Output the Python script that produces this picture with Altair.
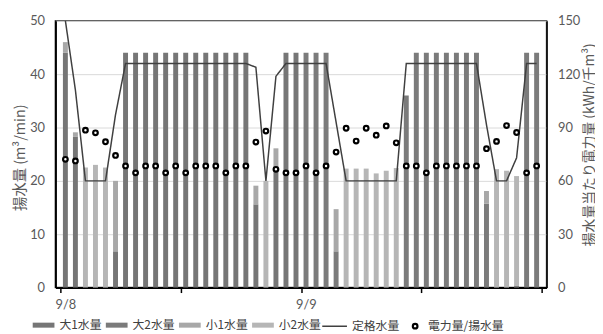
import altair as alt
import pandas as pd

# hourly data, 9/8 00:00 - 9/9 23:00
hours = list(range(48))

dai1 = [44, 28.3, 0, 0, 0, 6.8, 44, 44, 44, 44, 44, 44,
        44, 44, 44, 44, 44, 44, 44, 15.6, 0, 22.2, 44, 44,
        0, 0, 0, 0, 0, 0, 0, 0, 0, 0, 0, 0,
        0, 0, 0, 0, 0, 0, 0, 0, 0, 0, 0, 0]
dai2 = [0, 0, 0, 0, 0, 0, 0, 0, 0, 0, 0, 0,
        0, 0, 0, 0, 0, 0, 0, 0, 0, 0, 0, 0,
        44, 44, 44, 6.8, 0, 0, 0, 0, 0, 0, 36.0, 44,
        44, 44, 44, 44, 44, 44, 15.7, 0, 0, 0.4, 44, 44]
sho1 = [2.0, 0.8, 0, 0, 0, 13.2, 0, 0, 0, 0, 0, 0,
        0, 0, 0, 0, 0, 0, 0, 3.5, 0, 3.9, 0, 0,
        0, 0, 0, 7.9, 0, 0, 0, 0, 0, 0, 0, 0,
        0, 0, 0, 0, 0, 0, 2.4, 0, 0, 0, 0, 0]
sho2 = [0, 0, 22.5, 23.0, 22.5, 0, 0, 0, 0, 0, 0, 0,
        0, 0, 0, 0, 0, 0, 0, 0, 20.0, 0, 0, 0,
        0, 0, 0, 0, 22.3, 22.3, 22.3, 21.4, 21.9, 22.4, 0, 0,
        0, 0, 0, 0, 0, 0, 0, 22.2, 21.9, 20.5, 0, 0]
teikaku = [50, 37, 20, 20, 20, 32.4, 42, 42, 42, 42, 42, 42,
           42, 42, 42, 42, 42, 42, 42, 41.3, 20, 39.6, 42, 42,
           42, 42, 42, 31, 20, 20, 20, 20, 20, 20, 42, 42,
           42, 42, 42, 42, 42, 42, 30.5, 20, 20, 24.3, 42, 42]
denryoku = [72.1, 71.2, 88.5, 87.0, 82.0, 74.3, 68.4, 64.5, 68.4, 68.4, 64.5, 68.4,
            64.5, 68.4, 68.4, 68.4, 64.5, 68.4, 68.4, 81.8, 88.0, 66.5, 64.5, 64.5,
            68.4, 64.5, 68.4, 76.2, 89.6, 82.4, 89.6, 85.7, 90.9, 81.4, 68.4, 68.4,
            64.5, 68.4, 68.4, 68.4, 68.4, 68.4, 78.1, 82.2, 91.1, 87.2, 64.5, 68.4]

bar_names = ["大1水量", "大2水量", "小1水量", "小2水量"]
line_name = "定格水量"
point_name = "電力量/揚水量"
x_tick_values = [0, 12, 24, 36, 48]
left_ticks = [0, 10, 20, 30, 40, 50]
right_ticks = [0, 30, 60, 90, 120, 150]

bar_colors = ["#767676", "#7b7b7b", "#a8a8a8", "#b6b6b6"]
line_color = "#404040"

rows = []
for i in hours:
    for k, (name, arr) in enumerate(zip(bar_names, [dai1, dai2, sho1, sho2])):
        rows.append({"hour": i + 0.5, "series": name, "value": arr[i], "ord": k})
bars_df = pd.DataFrame(rows)
pts_df = pd.DataFrame({"hour": [i + 0.5 for i in hours],
                       "rated": teikaku, "ratio": denryoku,
                       "line_series": line_name, "pt_series": point_name})

LBL = dict(labelFont="Noto Sans CJK JP", labelFontSize=12, labelColor="#404040",
           title=None, orient="none", direction="horizontal", padding=0)

x_scale = alt.Scale(domain=[0, 48], nice=False, zero=False)
x_axis = alt.Axis(values=x_tick_values, title=None, grid=False,
                  labelExpr="datum.value == 0 ? '9/8' : (datum.value == 24 ? '9/9' : '')",
                  labelOffset=5, ticks=True, tickSize=5, tickWidth=1.5, tickColor="#000000",
                  domainColor="#000000", domainWidth=2, labelPadding=6,
                  labelFont="Lato", labelFontSize=13, labelColor="#595959")

left_axis = alt.Axis(values=left_ticks, title="揚水量 (m³/min)", grid=True,
                     gridColor="#d9d9d9", gridWidth=1, ticks=False,
                     domainColor="#000000", domainWidth=2, labelPadding=11,
                     labelFont="Lato", labelFontSize=13, labelColor="#595959",
                     titleFont="Noto Sans CJK JP", titleFontSize=14.5, titleColor="#595959",
                     titleFontWeight="normal", titleAngle=270, titleX=-35, titleY=138,
                     titleAlign="center", titleBaseline="middle")
right_axis = alt.Axis(values=right_ticks, title="揚水量当たり電力量 (kWh/千m³)", grid=False,
                      orient="right", ticks=False,
                      domainColor="#000000", domainWidth=1.5, labelPadding=11,
                      labelFont="Lato", labelFontSize=13, labelColor="#595959",
                      titleFont="Noto Sans CJK JP", titleFontSize=14, titleColor="#595959",
                      titleFontWeight="normal", titleAngle=270, titleX=43, titleY=125,
                      titleAlign="center", titleBaseline="middle")

bars = alt.Chart(bars_df).mark_bar(size=5).encode(
    x=alt.X("hour:Q", scale=x_scale, axis=x_axis),
    y=alt.Y("value:Q", stack="zero", scale=alt.Scale(domain=[0, 50], nice=False),
            axis=left_axis),
    color=alt.Color("series:N", scale=alt.Scale(domain=bar_names, range=bar_colors),
                    legend=alt.Legend(legendX=-23, legendY=297, symbolType="M-1,-0.23H1V0.23H-1Z",
                                      symbolSize=484, gridAlign="none", columnPadding=4,
                                      labelOffset=5, symbolOffset=0, symbolStrokeWidth=0,
                                      **LBL)),
    order=alt.Order("ord:Q", sort="ascending"),
)

line = alt.Chart(pts_df).mark_line(strokeWidth=1.5, color=line_color).encode(
    x=alt.X("hour:Q", scale=x_scale),
    y=alt.Y("rated:Q", scale=alt.Scale(domain=[0, 50], nice=False)),
    strokeDash=alt.StrokeDash("line_series:N",
                              scale=alt.Scale(domain=[line_name], range=[[1, 0]]),
                              legend=alt.Legend(legendX=269, legendY=295.5, symbolType="stroke",
                                                symbolSize=625, symbolStrokeColor=line_color,
                                                symbolStrokeWidth=1.5, labelOffset=4,
                                                symbolOffset=0, **LBL)),
)

left_layer = alt.layer(bars, line)

points = alt.Chart(pts_df).mark_point(shape="circle", filled=False, fill="#ffffff",
                                      fillOpacity=1, opacity=1, strokeWidth=2.2,
                                      size=22).encode(
    x=alt.X("hour:Q", scale=x_scale),
    y=alt.Y("ratio:Q", scale=alt.Scale(domain=[0, 150], nice=False), axis=right_axis),
    color=alt.Color("pt_series:N", scale=alt.Scale(domain=[point_name], range=["#000000"]),
                    legend=alt.Legend(legendX=358, legendY=303, symbolType="circle",
                                      symbolSize=22, symbolFillColor="#ffffff",
                                      symbolStrokeWidth=2.2,
                                      labelOffset=7, symbolOffset=0, **LBL)),
)

chart = alt.layer(left_layer, points).resolve_scale(
    y="independent", color="independent"
).properties(
    width=497, height=270,
    padding={"left": 48, "top": 11, "right": 49, "bottom": 44},
    autosize=alt.AutoSizeParams(type="none"),
).configure(font="Noto Sans CJK JP").configure_view(stroke="#404040", strokeWidth=1.5)

chart.save("out.html", embed_options={"renderer": "svg", "actions": False})
